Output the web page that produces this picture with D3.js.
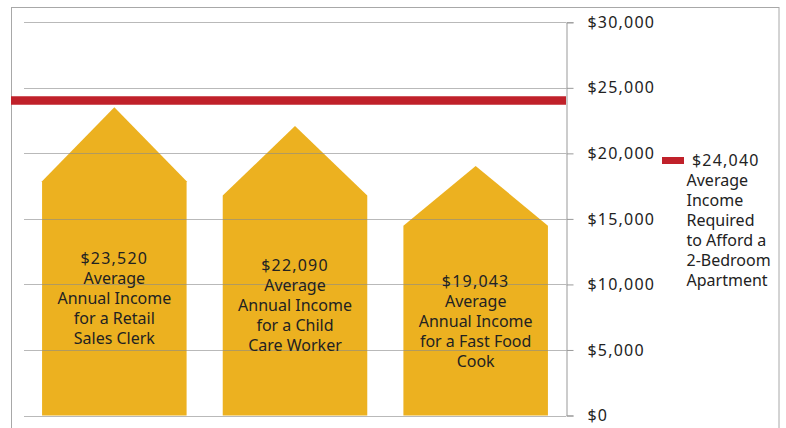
<!DOCTYPE html>
<html>
<head>
<meta charset="utf-8">
<script src="https://cdn.jsdelivr.net/npm/d3@7"></script>
<style>
  html, body { margin: 0; padding: 0; background: #fff; }
  svg { display: block; font-family: "Noto Sans", "Open Sans", sans-serif; }
  .money { letter-spacing: 1.2px; }
</style>
</head>
<body>
<svg id="chart" width="786" height="428"></svg>
<script>
// chart data
var categories = ["Retail Sales Clerk", "Child Care Worker", "Fast Food Cook"];
var incomes = [23520, 22090, 19043];
var barLabels = [
    ["$23,520", "Average", "Annual Income", "for a Retail", "Sales Clerk"],
    ["$22,090", "Average", "Annual Income", "for a Child", "Care Worker"],
    ["$19,043", "Average", "Annual Income", "for a Fast Food", "Cook"]
];
var requiredIncome = 24040;
var legendLines = ["$24,040", "Average", "Income", "Required", "to Afford a", "2-Bedroom", "Apartment"];
var yTicks = [0, 5000, 10000, 15000, 20000, 25000, 30000];

var svg = d3.select("#chart");

// outer frame
svg.append("rect")
    .attr("x", 11.5).attr("y", 7.5)
    .attr("width", 767.5).attr("height", 440)
    .attr("fill", "none")
    .attr("stroke", "#a8a8a8");

var y = d3.scaleLinear().domain([0, 30000]).range([415.5, 22.3]);
var x = d3.scaleBand().domain(categories).range([24, 566])
    .paddingInner(0.2).paddingOuter(0.1);

// the roof takes roughly a quarter of each house shape
var roofRatio = 0.24;

var bars = categories.map(function (c, i) {
    var top = y(incomes[i]), bottom = y(0);
    return {
        x0: x(c), x1: x(c) + x.bandwidth(),
        top: top, bottom: bottom,
        shoulder: top + (bottom - top) * roofRatio,
        lines: barLabels[i]
    };
});

// house shaped bars
svg.append("g").selectAll("path").data(bars).enter().append("path")
    .attr("d", function (d) {
        var mid = (d.x0 + d.x1) / 2;
        return "M" + d.x0 + "," + d.bottom + "L" + d.x0 + "," + d.shoulder +
            "L" + mid + "," + d.top + "L" + d.x1 + "," + d.shoulder +
            "L" + d.x1 + "," + d.bottom + "Z";
    })
    .attr("fill", "#ecb120");

// gridlines sit on top of the bars
svg.append("g").selectAll("line").data(yTicks).enter().append("line")
    .attr("x1", 24).attr("x2", 566)
    .attr("y1", function (d) { return Math.round(y(d)) + 0.5; })
    .attr("y2", function (d) { return Math.round(y(d)) + 0.5; })
    .attr("stroke", "#8a8a8a")
    .attr("stroke-opacity", 0.6);

// required income line
svg.append("line")
    .attr("x1", 11).attr("x2", 566)
    .attr("y1", y(requiredIncome)).attr("y2", y(requiredIncome))
    .attr("stroke", "#c0212a")
    .attr("stroke-width", 8.5);

// right axis
var axis = svg.append("g")
    .attr("transform", "translate(566.5,0)")
    .call(d3.axisRight(y).tickValues(yTicks).tickSize(7).tickPadding(14)
        .tickFormat(function (d) { return "$" + d3.format(",")(d); }));
axis.select(".domain").attr("stroke", "#999");
axis.selectAll(".tick line").attr("stroke", "#999");
axis.selectAll(".tick text")
    .attr("class", "money")
    .attr("fill", "#222")
    .style("font-size", "16px")
    .style("font-family", "'Noto Sans', sans-serif");

// labels in bars, one text block per bar
var lineH = 20;
svg.append("g").selectAll("text").data(bars).enter().append("text")
    .attr("text-anchor", "middle")
    .attr("dominant-baseline", "central")
    .attr("fill", "#222")
    .style("font-size", "16px")
    .each(function (d) {
        var t = d3.select(this);
        var cx = (d.x0 + d.x1) / 2;
        var cy = (d.shoulder + d.bottom) / 2;
        var n = d.lines.length;
        d.lines.forEach(function (s, i) {
            t.append("tspan")
                .attr("class", i === 0 ? "money" : null)
                .attr("x", cx)
                .attr("y", cy + (i - (n - 1) / 2) * lineH)
                .text(s);
        });
    });

// legend
var legend = svg.append("g");
legend.append("rect")
    .attr("x", 662).attr("y", 157)
    .attr("width", 22).attr("height", 7)
    .attr("fill", "#c0212a");
legend.append("text")
    .attr("dominant-baseline", "central")
    .attr("fill", "#222")
    .style("font-size", "16px")
    .selectAll("tspan").data(legendLines).enter().append("tspan")
    .attr("class", function (d, i) { return i === 0 ? "money" : null; })
    .attr("x", function (d, i) { return i === 0 ? 692 : 686.5; })
    .attr("y", function (d, i) { return i === 0 ? 159.5 : 180 + (i - 1) * lineH; })
    .text(function (d) { return d; });
</script>
</body>
</html>
